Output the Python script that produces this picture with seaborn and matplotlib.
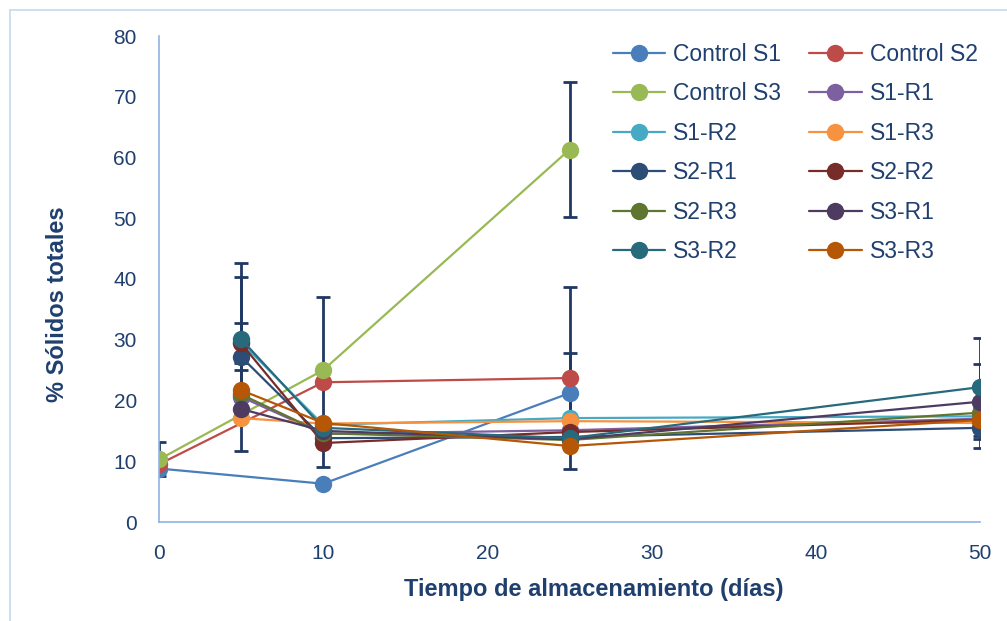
import numpy as np
import pandas as pd
import seaborn as sns
import matplotlib.pyplot as plt
from matplotlib.lines import Line2D
from matplotlib.patches import Rectangle

# Días de muestreo
dias_control = [0, 10, 25]
dias_trat = [5, 10, 25, 50]

# % sólidos totales
control_s1 = [8.8, 6.3, 21.2]
control_s2 = [9.5, 23.0, 23.7]
control_s3 = [10.3, 25.0, 61.3]
s1_r1 = [20.6, 14.5, 15.1, 17.0]
s1_r2 = [29.6, 16.0, 17.1, 17.4]
s1_r3 = [17.1, 16.2, 16.6, 16.3]
s2_r1 = [27.2, 13.8, 14.0, 15.5]
s2_r2 = [29.4, 13.0, 14.8, 16.8]
s2_r3 = [21.0, 14.6, 13.5, 18.0]
s3_r1 = [18.6, 15.0, 13.6, 19.8]
s3_r2 = [30.1, 15.5, 13.8, 22.2]
s3_r3 = [21.7, 16.3, 12.5, 16.8]

# barras de error (0 = sin barra)
err_control_s1 = [0, 0, 6.6]
err_control_s2 = [0, 14.0, 15.0]
err_control_s3 = [2.8, 0, 11.1]
err_s2_r1 = [15.5, 0, 0, 3.3]
err_s2_r2 = [3.3, 0, 0, 0]
err_s3_r1 = [0, 0, 0, 6.2]
err_s3_r2 = [10.2, 0, 0, 8.1]
err_s3_r3 = [3.3, 0, 0, 0]

nombres = ['Control S1', 'Control S2', 'Control S3', 'S1-R1', 'S1-R2', 'S1-R3',
           'S2-R1', 'S2-R2', 'S2-R3', 'S3-R1', 'S3-R2', 'S3-R3']
colores = ['#4A7EBB', '#BE4B48', '#98B954', '#7D60A0', '#46AAC5', '#F69240',
           '#2C4D75', '#772C2A', '#5F7530', '#4D3B62', '#276A7C', '#B65708']

series = [
    (dias_control, control_s1, err_control_s1),
    (dias_control, control_s2, err_control_s2),
    (dias_control, control_s3, err_control_s3),
    (dias_trat, s1_r1, None),
    (dias_trat, s1_r2, None),
    (dias_trat, s1_r3, None),
    (dias_trat, s2_r1, err_s2_r1),
    (dias_trat, s2_r2, err_s2_r2),
    (dias_trat, s2_r3, None),
    (dias_trat, s3_r1, err_s3_r1),
    (dias_trat, s3_r2, err_s3_r2),
    (dias_trat, s3_r3, err_s3_r3),
]

filas = []
for nombre, (x, y, e) in zip(nombres, series):
    for xi, yi in zip(x, y):
        filas.append({'dia': xi, 'valor': yi, 'serie': nombre})
df = pd.DataFrame(filas)

sns.set_style('white')
plt.rcParams['font.family'] = ['Liberation Sans', 'DejaVu Sans']
azul_txt = '#1F3F6E'
azul_eje = '#8EB4E3'

fig = plt.figure(figsize=(10.07, 6.21), dpi=100)
ax = fig.add_axes([159 / 1007, 1 - 522 / 621, (980 - 159) / 1007, (522 - 36) / 621])

# barras de error
for nombre, (x, y, e) in zip(nombres, series):
    if e is None:
        continue
    ax.errorbar(x, y, yerr=e, fmt='none', ecolor='#1F3864', elinewidth=2,
                capsize=5, capthick=2, zorder=1.5)

sns.lineplot(data=df, x='dia', y='valor', hue='serie', hue_order=nombres,
             palette=colores, marker='o', markersize=12.5, markeredgewidth=0,
             linewidth=1.6, sort=False, estimator=None, legend=False, ax=ax)

ax.set_xlim(0, 50)
ax.set_ylim(0, 80)
ax.set_xticks([0, 10, 20, 30, 40, 50])
ax.set_yticks(np.arange(0, 81, 10))
ax.tick_params(axis='both', length=0, labelsize=15, colors=azul_txt)
ax.tick_params(axis='x', pad=16)
ax.tick_params(axis='y', pad=16)
for lado in ['top', 'right']:
    ax.spines[lado].set_visible(False)
for lado in ['left', 'bottom']:
    ax.spines[lado].set_color(azul_eje)
    ax.spines[lado].set_linewidth(1.2)
ax.set_xlabel('Tiempo de almacenamiento (días)', fontsize=17, fontweight='bold',
              color=azul_txt)
ax.set_ylabel('% Sólidos totales', fontsize=17, fontweight='bold', color=azul_txt)
ax.xaxis.set_label_coords(0.53, -0.115)
ax.yaxis.set_label_coords(-0.11, 0.449)

# leyenda por filas (como en Excel): reordenar para ncol=2
handles = [Line2D([0], [0], color=c, marker='o', markersize=12.5, markeredgewidth=0,
                  linewidth=1.6) for c in colores]
orden = list(range(0, 12, 2)) + list(range(1, 12, 2))
leg = ax.legend([handles[i] for i in orden], [nombres[i] for i in orden], ncol=2,
                loc='upper left', bbox_to_anchor=(592 / 1007, 1 - 22 / 621),
                bbox_transform=fig.transFigure, frameon=False, fontsize=16.5,
                handlelength=2.3, handletextpad=0.35, columnspacing=1.2,
                labelspacing=0.72)
for t in leg.get_texts():
    t.set_color(azul_txt)

# marco exterior del gráfico
fig.patches.append(Rectangle((10 / 1007, -0.05), 1.1, 1 - 10 / 621 + 0.05,
                             transform=fig.transFigure, fill=False,
                             edgecolor='#C5D9F1', linewidth=1.2))

fig.savefig('out.png', dpi=100)
